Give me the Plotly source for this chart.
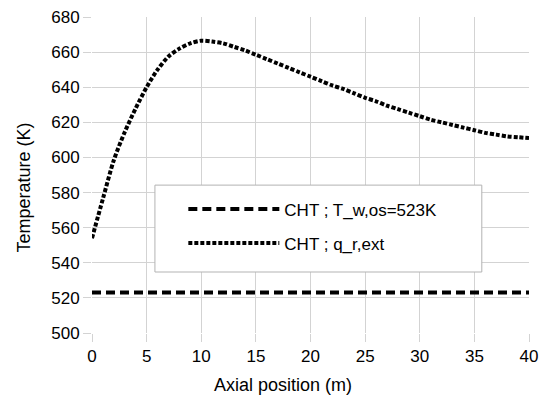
import plotly.graph_objects as go

# Data
x_pos = [0, 1, 2, 3, 4, 5, 6, 7, 8, 9, 10, 11, 12, 13, 14, 15, 16, 17, 18, 19, 20,
         21, 22, 23, 24, 25, 26, 27, 28, 29, 30, 31, 32, 33, 34, 35, 36, 37, 38, 39, 40]
t_qr_ext = [554, 576.5, 598.5, 614.5, 628, 640, 650, 657.5, 662, 665, 666.5, 666, 665, 663,
            661, 658.5, 656, 653.5, 651, 648.5, 646, 643.5, 641, 639, 636.5, 634, 632, 629.5,
            627.5, 625.5, 623.5, 621.5, 620, 618.5, 617, 615.5, 614, 613, 612, 611.5, 611]
x_const = [0, 40]
t_const = [523, 523]

name_const = "CHT ; T_w,os=523K"
name_qr = "CHT ; q_r,ext"
x_title = "Axial position (m)"
y_title = "Temperature (K)"
x_ticks = [0, 5, 10, 15, 20, 25, 30, 35, 40]
y_ticks = [500, 520, 540, 560, 580, 600, 620, 640, 660, 680]

FONT = "Liberation Sans"
FS = 17
FS_TITLE = 18

fig = go.Figure()
fig.add_trace(go.Scatter(x=x_const, y=t_const, mode="lines", name=name_const, legendgroup="a",
                         line=dict(color="black", width=4, dash="9px,5px")))
fig.add_trace(go.Scatter(x=x_pos, y=t_qr_ext, mode="lines", name=name_qr, legendgroup="b",
                         line=dict(color="black", width=4, dash="4px,2px", shape="spline",
                                   smoothing=0.8)))

# legend frame
fig.add_shape(type="rect", xref="paper", yref="paper", x0=0.144, x1=0.892, y0=0.193, y1=0.468,
              line=dict(color="#b3b3b3", width=1), fillcolor="white", layer="above")

# axis titles (placed as in the reference)
fig.add_annotation(text=x_title, xref="paper", yref="paper", x=0.438, y=0,
                   xanchor="center", yanchor="top", yshift=-40, showarrow=False,
                   font=dict(family=FONT, size=FS_TITLE, color="black"))
fig.add_annotation(text=y_title, xref="paper", yref="paper", x=0, y=0.4604,
                   xanchor="center", yanchor="middle", xshift=-68, textangle=-90,
                   showarrow=False, font=dict(family=FONT, size=FS_TITLE, color="black"))

fig.update_layout(
    width=543, height=396,
    margin=dict(l=92, r=14, t=17, b=63),
    paper_bgcolor="white", plot_bgcolor="white",
    font=dict(family=FONT, size=FS, color="black"),
    showlegend=True,
    legend=dict(x=0.209, y=0.448, xanchor="left", yanchor="top",
                bgcolor="rgba(0,0,0,0)", borderwidth=0, itemwidth=91,
                traceorder="grouped", tracegroupgap=9,
                font=dict(family=FONT, size=FS, color="black")),
    xaxis=dict(range=[0, 40], tickvals=x_ticks, showgrid=True, gridcolor="#d3d3d3",
               ticks="outside", ticklen=8, tickcolor="#d3d3d3", zeroline=False,
               showline=False, automargin=False, tickfont=dict(family=FONT, size=FS)),
    yaxis=dict(range=[500, 680], tickvals=y_ticks, showgrid=True, gridcolor="#d3d3d3",
               ticks="outside", ticklen=8, tickcolor="#d3d3d3", zeroline=False,
               showline=False, automargin=False, tickfont=dict(family=FONT, size=FS)),
)

fig.write_html("out.html")
